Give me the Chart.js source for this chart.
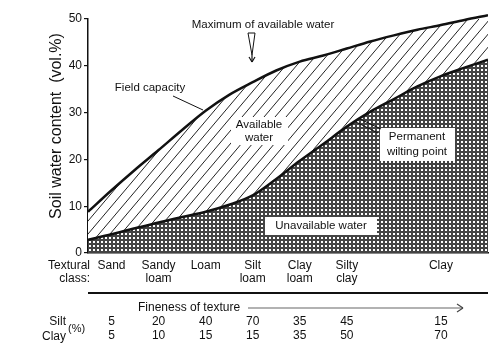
<!DOCTYPE html>
<html>
<head>
<meta charset="utf-8">
<style>
  html, body { margin: 0; padding: 0; background: #fff; }
  #wrap { width: 501px; height: 352px; }
</style>
</head>
<body>
<div id="wrap"><canvas id="soilChart" width="501" height="352"></canvas></div>
<script src="https://cdn.jsdelivr.net/npm/chart.js@4.4.1/dist/chart.umd.min.js"></script>
<script>
'use strict';
// ─────────────────────────────────────────────
//  SOIL WATER vs TEXTURE
// ─────────────────────────────────────────────

const FONT = "'Liberation Sans', Arial, sans-serif";
const INK = '#111';

// position along "fineness of texture" (sampled every half class)
const FINENESS = [0, 0.5, 1, 1.5, 2, 2.5, 3, 3.5, 4, 4.5, 5, 5.5, 6, 6.5, 7, 7.5, 8, 8.5];
const FIELD_CAPACITY = [8.8, 13.4, 17.8, 22.0, 26.3, 30.4, 33.8, 36.5, 39.0, 40.9, 42.2, 43.7, 45.2, 46.5, 47.7, 48.7, 49.8, 50.8];
const WILTING_POINT  = [2.8, 4.0, 5.3, 6.5, 7.7, 8.8, 10.3, 12.3, 15.8, 19.7, 23.3, 27.0, 30.2, 32.9, 35.6, 37.8, 39.6, 41.3];

const CLASS_POS = [0.5, 1.5, 2.5, 3.5, 4.5, 5.5, 7.5];
const CLASS_LABELS = [['Sand'], ['Sandy', 'loam'], ['Loam'], ['Silt', 'loam'], ['Clay', 'loam'], ['Silty', 'clay'], ['Clay']];
const SILT_PCT = ['5', '20', '40', '70', '35', '45', '15'];
const CLAY_PCT = ['5', '10', '15', '15', '35', '50', '70'];
const Y_TICKS = [0, 10, 20, 30, 40, 50];

function hatchPattern() {
  const c = document.createElement('canvas');
  c.width = 11; c.height = 13;
  const g = c.getContext('2d');
  g.fillStyle = '#fff';
  g.fillRect(0, 0, 11, 13);
  g.strokeStyle = '#222';
  g.lineWidth = 1;
  [-11, 0, 11].forEach(dx => {
    g.beginPath();
    g.moveTo(dx, 13);
    g.lineTo(dx + 11, 0);
    g.stroke();
  });
  return g.createPattern(c, 'repeat');
}

function crossPattern() {
  const c = document.createElement('canvas');
  c.width = 4; c.height = 4;
  const g = c.getContext('2d');
  g.fillStyle = '#444';
  g.fillRect(0, 0, 4, 4);
  g.fillStyle = '#fff';
  g.fillRect(1, 1, 2, 2);
  return g.createPattern(c, 'repeat');
}

const toPoints = ys => FINENESS.map((x, i) => ({ x, y: ys[i] }));

function txt(ctx, s, x, y, align, size) {
  ctx.font = `${size || 12}px ${FONT}`;
  ctx.textAlign = align || 'center';
  ctx.textBaseline = 'middle';
  ctx.fillStyle = INK;
  ctx.fillText(s, x, y);
}

function line(ctx, x1, y1, x2, y2, w, color) {
  ctx.beginPath();
  ctx.moveTo(x1, y1);
  ctx.lineTo(x2, y2);
  ctx.lineWidth = w || 1;
  ctx.strokeStyle = color || INK;
  ctx.stroke();
}

const overlay = {
  id: 'overlay',
  afterDatasetsDraw(chart) {
    const ctx = chart.ctx;
    ctx.save();

    // white boxes behind labels inside the shaded areas
    ctx.fillStyle = '#fff';
    ctx.fillRect(231, 117, 57, 28);
    ctx.fillRect(380, 128, 75, 33);
    ctx.fillRect(265, 217, 112, 18);

    txt(ctx, 'Maximum of available water', 263, 25, 'center', 11.5);
    txt(ctx, 'Field capacity', 150, 88, 'center', 11.5);
    txt(ctx, 'Available', 259, 125, 'center', 11.5);
    txt(ctx, 'water', 259, 138, 'center', 11.5);
    txt(ctx, 'Permanent', 417, 137, 'center', 11.5);
    txt(ctx, 'wilting point', 417, 152, 'center', 11.5);
    txt(ctx, 'Unavailable water', 321, 226, 'center', 11.5);

    // leader lines
    line(ctx, 173, 96, 203, 110, 1);
    line(ctx, 356, 122, 378, 133, 1);
    line(ctx, 360, 119, 381, 129, 1);

    // hollow arrow to the maximum
    ctx.beginPath();
    ctx.moveTo(248, 33);
    ctx.lineTo(255, 33);
    ctx.lineTo(252, 55);
    ctx.closePath();
    ctx.lineWidth = 1;
    ctx.strokeStyle = INK;
    ctx.stroke();
    line(ctx, 252, 55, 252, 62, 1.2);
    line(ctx, 249, 57, 252, 62, 1.2);
    line(ctx, 255, 57, 252, 62, 1.2);

    ctx.restore();
  },
  afterDraw(chart) {
    const ctx = chart.ctx;
    const xs = chart.scales.x;
    ctx.save();

    // y axis title
    ctx.save();
    ctx.translate(57, 126);
    ctx.rotate(-Math.PI / 2);
    txt(ctx, 'Soil water content  (vol.%)', 0, 0, 'center', 16);
    ctx.restore();

    txt(ctx, 'Textural', 90, 266, 'right');
    txt(ctx, 'class:', 90, 279, 'right');

    line(ctx, xs.left, 293, xs.right, 293, 2);

    txt(ctx, 'Fineness of texture', 138, 308, 'left');
    line(ctx, 248, 308, 463, 308, 1.2, '#666');
    line(ctx, 457, 304, 463, 308, 1.2, '#444');
    line(ctx, 457, 312, 463, 308, 1.2, '#444');

    txt(ctx, 'Silt', 66, 322, 'right');
    txt(ctx, 'Clay', 66, 337, 'right');
    txt(ctx, '(%)', 68, 329, 'left', 11);
    CLASS_POS.forEach((v, i) => {
      const px = xs.getPixelForValue(v);
      txt(ctx, SILT_PCT[i], px, 322);
      txt(ctx, CLAY_PCT[i], px, 336);
    });

    ctx.restore();
  },
};

new Chart(document.getElementById('soilChart'), {
  type: 'line',
  data: {
    datasets: [
      {
        label: 'Permanent wilting point',
        data: toPoints(WILTING_POINT),
        borderColor: INK,
        borderWidth: 2.5,
        backgroundColor: crossPattern(),
        fill: 'origin',
        pointRadius: 0,
        cubicInterpolationMode: 'monotone',
      },
      {
        label: 'Field capacity',
        data: toPoints(FIELD_CAPACITY),
        borderColor: INK,
        borderWidth: 2.5,
        backgroundColor: hatchPattern(),
        fill: '-1',
        pointRadius: 0,
        cubicInterpolationMode: 'monotone',
        clip: { left: 0, right: 0, top: 8, bottom: 0 },
      },
    ],
  },
  options: {
    responsive: false,
    devicePixelRatio: 1,
    animation: false,
    layout: { padding: { left: 0, right: 13, top: 19, bottom: 0 } },
    plugins: {
      legend: { display: false },
      tooltip: { enabled: false },
    },
    scales: {
      x: {
        type: 'linear',
        min: 0,
        max: 8.5,
        afterBuildTicks: s => { s.ticks = CLASS_POS.map(v => ({ value: v })); },
        afterFit: s => { s.height = 99; },
        ticks: {
          callback: v => CLASS_LABELS[CLASS_POS.indexOf(v)],
          color: INK,
          font: { family: FONT, size: 12, lineHeight: 1.1 },
          padding: 6,
          maxRotation: 0,
          autoSkip: false,
        },
        grid: { display: false, drawTicks: false },
        border: { display: true, color: INK, width: 1.5 },
      },
      y: {
        min: 0,
        max: 50,
        afterBuildTicks: s => { s.ticks = Y_TICKS.map(v => ({ value: v })); },
        afterFit: s => { s.width = 88; },
        ticks: {
          color: INK,
          font: { family: FONT, size: 12 },
          padding: 2,
        },
        grid: { drawOnChartArea: false, tickLength: 4, color: INK, lineWidth: 1.2 },
        border: { display: true, color: INK, width: 1.5 },
      },
    },
  },
  plugins: [overlay],
});
</script>
</body>
</html>
